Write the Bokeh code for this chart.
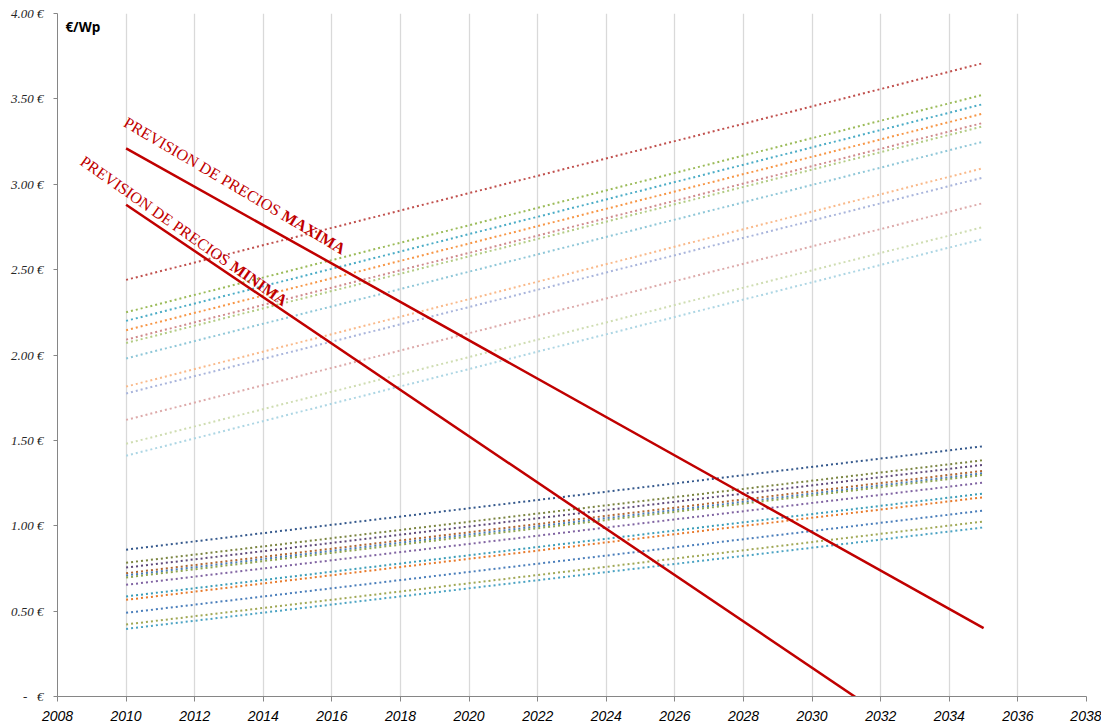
import math
from bokeh.plotting import figure
from bokeh.models import FixedTicker, Label
from bokeh.embed import file_html
from bokeh.resources import INLINE

# ---- data ----
years = [2010, 2035]

high_group_2010 = [2.44, 2.25, 2.20, 2.145, 2.09, 2.07, 1.98, 1.815, 1.775, 1.62, 1.48, 1.41]
high_group_2035 = [3.71, 3.525, 3.47, 3.415, 3.36, 3.34, 3.25, 3.095, 3.04, 2.89, 2.75, 2.68]

low_group_2010 = [0.86, 0.783, 0.755, 0.722, 0.709, 0.697, 0.654, 0.586, 0.566, 0.49, 0.422, 0.396]
low_group_2035 = [1.466, 1.384, 1.357, 1.322, 1.308, 1.298, 1.253, 1.189, 1.167, 1.089, 1.025, 0.99]

max_forecast = [3.21, 0.40]
min_forecast = [2.88, -0.51]

x_ticks = list(range(2008, 2039, 2))
y_ticks = [0, 0.5, 1.0, 1.5, 2.0, 2.5, 3.0, 3.5, 4.0]
y_tick_labels = ["-\u00a0\u00a0\u00a0€", "0.50 €", "1.00 €", "1.50 €", "2.00 €",
                 "2.50 €", "3.00 €", "3.50 €", "4.00 €"]

# ---- styles ----
high_colors = ["#C0504D", "#9BBB59", "#4BACC6", "#F79646", "#D08A8C", "#B3CC85",
               "#8FC7D8", "#F9B98A", "#A9B5DC", "#DDAAAA", "#CFDDB2", "#ADD6E4"]
low_colors = ["#34588C", "#7A8440", "#5F497A", "#B0652F", "#4A7EBB", "#8EA54E",
              "#8064A2", "#3A9DB8", "#E8792A", "#4A7EBB", "#A0A855", "#4BA3C3"]

p = figure(width=1101, height=726, x_range=(2008, 2038), y_range=(0, 4),
           output_backend="svg", toolbar_location=None,
           min_border_left=57, min_border_right=15, min_border_top=13, min_border_bottom=30)
p.outline_line_color = None
p.background_fill_color = "white"

for s, e, c in zip(high_group_2010, high_group_2035, high_colors):
    p.line(years, [s, e], line_color=c, line_width=2, line_dash="2 3")
for s, e, c in zip(low_group_2010, low_group_2035, low_colors):
    p.line(years, [s, e], line_color=c, line_width=2, line_dash="2 3")

p.line(years, max_forecast, line_color="#C00000", line_width=2.5)
p.line(years, min_forecast, line_color="#C00000", line_width=2.5)

# axes
p.xaxis.ticker = FixedTicker(ticks=x_ticks)
p.yaxis.ticker = FixedTicker(ticks=y_ticks)
p.yaxis.major_label_overrides = {t: l for t, l in zip(y_ticks, y_tick_labels)}
p.xaxis.minor_tick_line_color = None
p.yaxis.minor_tick_line_color = None
for ax in (p.xaxis, p.yaxis):
    ax.axis_line_color = "#868686"
    ax.major_tick_line_color = "#868686"
    ax.major_tick_in = 0
p.xaxis.major_tick_out = 5
p.yaxis.major_tick_out = 4
p.xaxis.major_label_text_font = "Liberation Sans"
p.xaxis.major_label_text_font_style = "italic"
p.xaxis.major_label_text_font_size = "14px"
p.xaxis.major_label_text_color = "#000000"
p.xaxis.major_label_standoff = 9
p.yaxis.major_label_text_font = "Liberation Serif"
p.yaxis.major_label_text_font_style = "italic"
p.yaxis.major_label_text_font_size = "13px"
p.yaxis.major_label_text_color = "#262626"
p.yaxis.major_label_standoff = 10

p.xgrid.ticker = FixedTicker(ticks=x_ticks)
p.xgrid.grid_line_color = "#D9D9D9"
p.xgrid.grid_line_width = 1.3
p.ygrid.grid_line_color = None

# unit label
p.add_layout(Label(x=2008.23, y=3.975, text="€/Wp", text_font="Open Sans",
                   text_font_style="bold", text_font_size="13.5px", text_color="#000000",
                   text_baseline="top", text_align="left"))

# annotations
def rotated_label(x, y, deg, normal, bold):
    a = math.radians(deg)
    p.add_layout(Label(x=x, y=y, text=normal, angle=-a, text_font="Liberation Serif",
                       text_font_size="16px", text_color="#C00000",
                       text_baseline="alphabetic", text_align="left"))
    w = 183
    p.add_layout(Label(x=x, y=y, text=bold, angle=-a, text_font="Liberation Serif",
                       text_font_style="bold", text_font_size="16px", text_color="#C00000",
                       text_baseline="alphabetic", text_align="left",
                       x_offset=w * math.cos(a), y_offset=-w * math.sin(a)))

rotated_label(2009.98, 3.37, 30.5, "PREVISION DE PRECIOS ", "MAXIMA")
rotated_label(2008.72, 3.145, 35, "PREVISION DE PRECIOS ", "MINIMA")

open("out.html", "w").write(file_html(p, INLINE))
